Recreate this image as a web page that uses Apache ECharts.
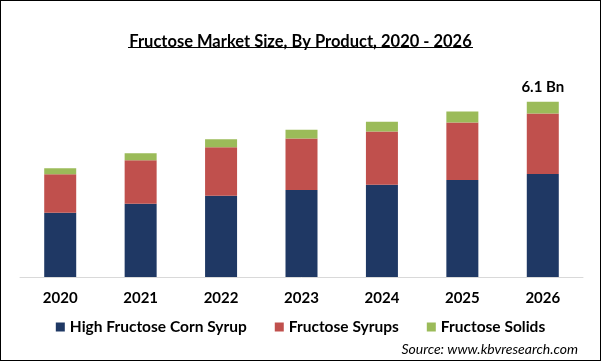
<!DOCTYPE html>
<html>
<head>
<meta charset="utf-8">
<script src="https://cdn.jsdelivr.net/npm/echarts@6/dist/echarts.min.js"></script>
<style>
html,body{margin:0;padding:0;background:#fff;}
#c{width:601px;height:361px;box-sizing:border-box;border:1px solid #000;}
</style>
</head>
<body>
<div id="c"></div>
<script>
const years = ['2020','2021','2022','2023','2024','2025','2026'];
const seriesNames = ['High Fructose Corn Syrup','Fructose Syrups','Fructose Solids'];
const hfcs = [2.24, 2.55, 2.83, 3.03, 3.21, 3.38, 3.59];
const syrups = [1.34, 1.52, 1.69, 1.79, 1.86, 2.00, 2.10];
const solids = [0.21, 0.24, 0.28, 0.31, 0.34, 0.38, 0.41];
const lastLabel = '6.1 Bn';
const colors = ['#1F3864', '#C0504D', '#9BBB59'];
const FONT = 'Lato, "Open Sans", sans-serif';

const chart = echarts.init(document.getElementById('c'), null, {renderer:'canvas'});
const values = [hfcs, syrups, solids];
const series = seriesNames.map((name, i) => ({
  name: name,
  type: 'bar',
  stack: 'total',
  data: values[i],
  barWidth: 32,
  itemStyle: {color: colors[i]},
  label: i === 2 ? {
    show: true,
    position: 'top',
    distance: 7,
    color: '#000',
    fontFamily: FONT,
    fontWeight: 'bold',
    fontSize: 15,
    formatter: p => p.dataIndex === years.length - 1 ? lastLabel : ''
  } : {show: false}
}));

chart.setOption({
  animation: false,
  title: [{
    text: 'Fructose Market Size, By Product, 2020 - 2026',
    left: 'center',
    top: 27,
    textStyle: {fontFamily: FONT, fontWeight: 'bold', fontSize: 16.5, color: '#000'}
  }, {
    text: 'Source: www.kbvresearch.com',
    right: 17,
    top: 336,
    textStyle: {fontFamily: FONT, fontStyle: 'italic', fontWeight: 'normal', fontSize: 14, color: '#000'}
  }],
  graphic: [{
    type: 'line',
    shape: {x1: 127, y1: 46.5, x2: 472, y2: 46.5},
    style: {stroke: '#000', lineWidth: 1}
  }],
  legend: {
    data: seriesNames,
    top: 313,
    left: 'center',
    itemWidth: 9,
    itemHeight: 9,
    itemGap: 28,
    icon: 'rect',
    textStyle: {fontFamily: FONT, fontWeight: 'bold', fontSize: 15.5, color: '#000'}
  },
  grid: {left: 19, right: 17, top: 75, bottom: 83, containLabel: false},
  xAxis: {
    type: 'category',
    data: years,
    axisLine: {lineStyle: {color: '#d9d9d9', width: 1}},
    axisTick: {show: false},
    axisLabel: {margin: 14, color: '#000', fontFamily: FONT, fontWeight: 'bold', fontSize: 15}
  },
  yAxis: {
    type: 'value',
    min: 0,
    max: 7,
    show: false,
    splitLine: {show: false}
  },
  series: series
});
</script>
</body>
</html>
